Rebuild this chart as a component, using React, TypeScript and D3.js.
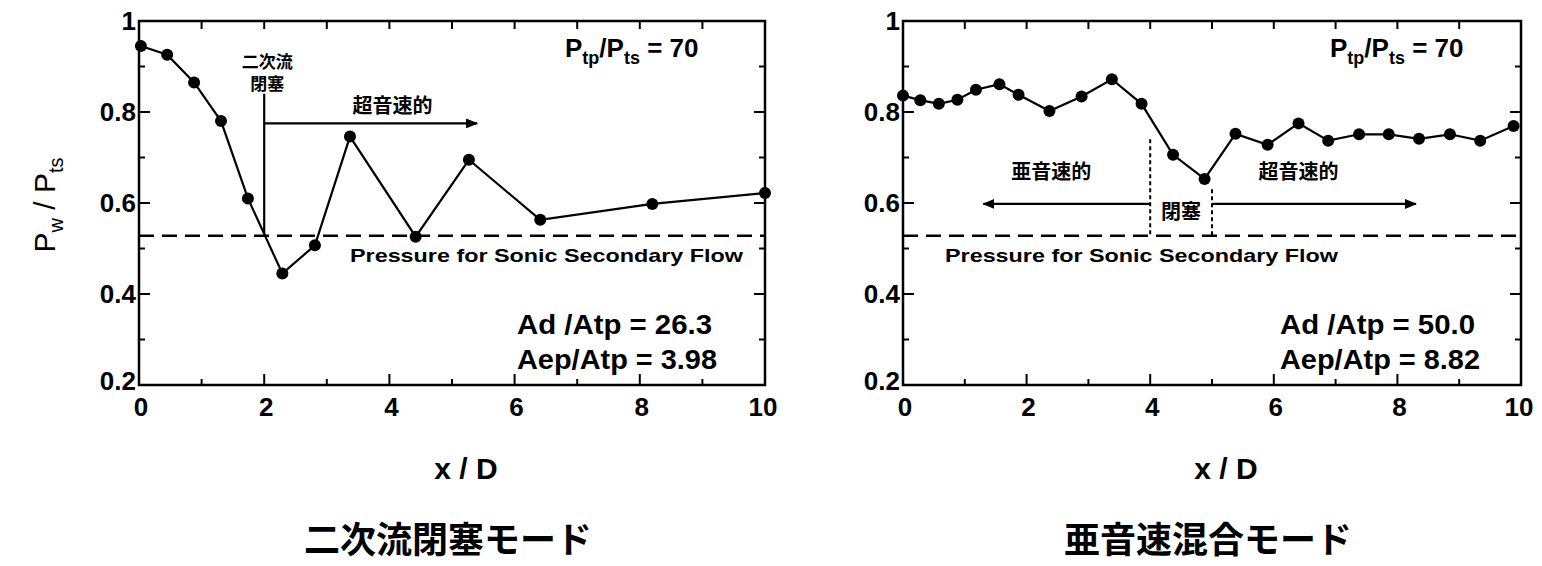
import { useRef, useEffect } from 'react'
import * as d3 from 'd3'

// tick values shared by both panels
const xTicks = [0, 2, 4, 6, 8, 10]
const yTicks = [0.2, 0.4, 0.6, 0.8, 1]
const yTickLabels = ['0.2', '0.4', '0.6', '0.8', '1']

// 二次流閉塞モード (left)
const leftX = [0.03, 0.45, 0.88, 1.31, 1.74, 2.29, 2.81, 3.37, 4.42, 5.27, 6.41, 8.2, 10.0]
const leftY = [0.945, 0.926, 0.865, 0.78, 0.61, 0.445, 0.507, 0.746, 0.526, 0.695, 0.563, 0.598, 0.622]

// 亜音速混合モード (right)
const rightX = [0, 0.28, 0.58, 0.88, 1.18, 1.56, 1.87, 2.37, 2.89, 3.38, 3.86, 4.37, 4.88, 5.38, 5.9, 6.4, 6.88, 7.38, 7.86, 8.35, 8.85, 9.34, 9.88]
const rightY = [0.836, 0.826, 0.818, 0.827, 0.849, 0.861, 0.838, 0.802, 0.834, 0.872, 0.818, 0.706, 0.653, 0.752, 0.728, 0.775, 0.737, 0.751, 0.751, 0.741, 0.751, 0.737, 0.769]

const sonicLevel = 0.528
const ratioLabels = ['26.3', '50.0']
const exitLabels = ['3.98', '8.82']
const modeTitles = ['二次流閉塞モード', '亜音速混合モード']

const FONT = '"Liberation Sans", Arial, sans-serif'
const CJK = '"Noto Sans CJK JP", sans-serif'

const App = () => {
  const ref = useRef(null)

  useEffect(() => {
    const svg = d3.select(ref.current)
    svg.selectAll('*').remove()

    svg.append('defs').append('marker')
      .attr('id', 'arr')
      .attr('viewBox', '0 0 12 10')
      .attr('refX', 11)
      .attr('refY', 5)
      .attr('markerWidth', 12)
      .attr('markerHeight', 10)
      .attr('markerUnits', 'userSpaceOnUse')
      .attr('orient', 'auto')
      .append('path')
      .attr('d', 'M0,0L12,5L0,10Z')
      .attr('fill', '#000')

    const panels = [
      { left: 139, right: 765, xs: leftX, ys: leftY, idx: 0 },
      { left: 903, right: 1521, xs: rightX, ys: rightY, idx: 1 }
    ]
    const top = 21
    const bottom = 385

    panels.forEach((p) => {
      const x = d3.scaleLinear().domain([0, 10]).range([p.left, p.right])
      const y = d3.scaleLinear().domain([0.2, 1]).range([bottom, top])
      const g = svg.append('g')

      // frame
      g.append('rect')
        .attr('x', p.left).attr('y', top)
        .attr('width', p.right - p.left).attr('height', bottom - top)
        .attr('fill', 'none').attr('stroke', '#000').attr('stroke-width', 2.5)

      // ticks
      const xMinor = d3.range(0, 11, 1)
      xMinor.forEach((v) => {
        const major = v % 2 === 0
        g.append('line')
          .attr('x1', x(v)).attr('x2', x(v))
          .attr('y1', bottom).attr('y2', bottom - (major ? 11 : 6))
          .attr('stroke', '#000').attr('stroke-width', 2)
        g.append('line')
          .attr('x1', x(v)).attr('x2', x(v))
          .attr('y1', top).attr('y2', top + 8)
          .attr('stroke', '#000').attr('stroke-width', 2)
      })
      const yMinor = d3.range(0.2, 1.001, 0.1)
      yMinor.forEach((v, i) => {
        const len = i % 2 === 0 ? 11 : 6
        g.append('line')
          .attr('x1', p.left).attr('x2', p.left + len)
          .attr('y1', y(v)).attr('y2', y(v))
          .attr('stroke', '#000').attr('stroke-width', 2)
        g.append('line')
          .attr('x1', p.right).attr('x2', p.right - len)
          .attr('y1', y(v)).attr('y2', y(v))
          .attr('stroke', '#000').attr('stroke-width', 2)
      })

      // tick labels
      g.selectAll('.xt').data(xTicks).enter().append('text')
        .attr('x', (d) => x(d) + (d === 10 ? -2 : 2))
        .attr('y', bottom + 31)
        .attr('text-anchor', 'middle')
        .style('font-family', FONT).style('font-size', '26px').style('font-weight', 'bold')
        .text((d) => d)
      g.selectAll('.yt').data(yTicks).enter().append('text')
        .attr('x', p.left - 3)
        .attr('y', (d) => y(d) + 9 - (d === 0.2 ? 4 : 0))
        .attr('text-anchor', 'end')
        .style('font-family', FONT).style('font-size', '26px').style('font-weight', 'bold')
        .text((d, i) => yTickLabels[i])

      // sonic line
      g.append('line')
        .attr('x1', x(0)).attr('x2', x(10))
        .attr('y1', y(sonicLevel)).attr('y2', y(sonicLevel))
        .attr('stroke', '#000').attr('stroke-width', 2.5)
        .attr('stroke-dasharray', '15,8')

      // series
      const pts = p.xs.map((v, i) => [v, p.ys[i]])
      g.append('path')
        .attr('d', d3.line().x((d) => x(d[0])).y((d) => y(d[1]))(pts))
        .attr('fill', 'none').attr('stroke', '#000').attr('stroke-width', 2.2)
      g.selectAll('circle').data(pts).enter().append('circle')
        .attr('cx', (d) => x(d[0])).attr('cy', (d) => y(d[1]))
        .attr('r', 6).attr('fill', '#000')

      // Ptp/Pts
      const pt = g.append('text')
        .attr('x', p.idx === 0 ? 565 : 1330).attr('y', 57)
        .style('font-family', FONT).style('font-size', '26px').style('font-weight', 'bold')
      pt.append('tspan').text('P')
      pt.append('tspan').attr('dy', 7).style('font-size', '18px').text('tp')
      pt.append('tspan').attr('dy', -7).text('/P')
      pt.append('tspan').attr('dy', 7).style('font-size', '18px').text('ts')
      pt.append('tspan').attr('dy', -7).text(p.idx === 0 ? ' = 70' : '  = 70')

      // sonic label
      g.append('text')
        .attr('x', p.idx === 0 ? 350 : 945).attr('y', 262)
        .attr('textLength', 393).attr('lengthAdjust', 'spacingAndGlyphs')
        .style('font-family', FONT).style('font-size', '19px').style('font-weight', 'bold')
        .text('Pressure for Sonic Secondary Flow')

      // area ratios
      const ax = p.idx === 0 ? 517 : 1280
      g.append('text').attr('x', ax).attr('y', 334)
        .attr('textLength', 195).attr('lengthAdjust', 'spacingAndGlyphs')
        .style('font-family', FONT).style('font-size', '27px').style('font-weight', 'bold')
        .text(`Ad /Atp = ${ratioLabels[p.idx]}`)
      g.append('text').attr('x', ax).attr('y', 369)
        .attr('textLength', 200).attr('lengthAdjust', 'spacingAndGlyphs')
        .style('font-family', FONT).style('font-size', '27px').style('font-weight', 'bold')
        .text(`Aep/Atp = ${exitLabels[p.idx]}`)

      // axis title + mode title
      const cx = (p.left + p.right) / 2
      g.append('text').attr('x', cx + 14).attr('y', 479)
        .attr('text-anchor', 'middle')
        .style('font-family', FONT).style('font-size', '30px').style('font-weight', 'bold')
        .text('x / D')
      g.append('text').attr('x', cx - 4).attr('y', 553)
        .attr('text-anchor', 'middle')
        .style('font-family', CJK).style('font-size', '36px').style('font-weight', 'bold')
        .text(modeTitles[p.idx])

      const jp = (tx, ty, s, size = 20) => g.append('text').attr('x', tx).attr('y', ty)
        .attr('text-anchor', 'middle')
        .style('font-family', CJK).style('font-size', `${size}px`).style('font-weight', 'bold')
        .text(s)

      if (p.idx === 0) {
        g.append('line')
          .attr('x1', x(2)).attr('x2', x(2))
          .attr('y1', y(0.84)).attr('y2', y(sonicLevel))
          .attr('stroke', '#000').attr('stroke-width', 2.2)
        g.append('line')
          .attr('x1', x(2)).attr('x2', x(5.4))
          .attr('y1', y(0.775)).attr('y2', y(0.775))
          .attr('stroke', '#000').attr('stroke-width', 2.2)
          .attr('marker-end', 'url(#arr)')
        jp(x(2.05), 68, '二次流', 17)
        jp(x(2.05), 90, '閉塞', 17)
        jp(x(4.05), 113, '超音速的')
      } else {
        ;[[4, 0.74], [5, 0.63]].forEach(([v, t]) => {
          g.append('line')
            .attr('x1', x(v)).attr('x2', x(v))
            .attr('y1', y(t)).attr('y2', y(sonicLevel))
            .attr('stroke', '#000').attr('stroke-width', 2)
            .attr('stroke-dasharray', '4,3')
        })
        g.append('line')
          .attr('x1', x(4)).attr('x2', x(1.3))
          .attr('y1', y(0.598)).attr('y2', y(0.598))
          .attr('stroke', '#000').attr('stroke-width', 2.2)
          .attr('marker-end', 'url(#arr)')
        g.append('line')
          .attr('x1', x(5)).attr('x2', x(8.3))
          .attr('y1', y(0.598)).attr('y2', y(0.598))
          .attr('stroke', '#000').attr('stroke-width', 2.2)
          .attr('marker-end', 'url(#arr)')
        jp(x(2.4), 179, '亜音速的')
        jp(x(6.4), 179, '超音速的')
        jp(x(4.5), 219, '閉塞')
      }
    })

    // y axis title (left only)
    const yl = svg.append('text')
      .attr('transform', 'translate(55, 205) rotate(-90)')
      .attr('text-anchor', 'middle')
      .style('font-family', FONT).style('font-size', '30px')
    yl.append('tspan').text('P')
    yl.append('tspan').attr('dy', 8).style('font-size', '20px').text('w')
    yl.append('tspan').attr('dy', -8).text(' / P')
    yl.append('tspan').attr('dy', 8).style('font-size', '20px').text('ts')
  }, [])

  return (
    <svg ref={ref} width={1542} height={566}
      style={{ position: 'absolute', left: 0, top: 0, background: '#fff' }} />
  )
}

export default App
